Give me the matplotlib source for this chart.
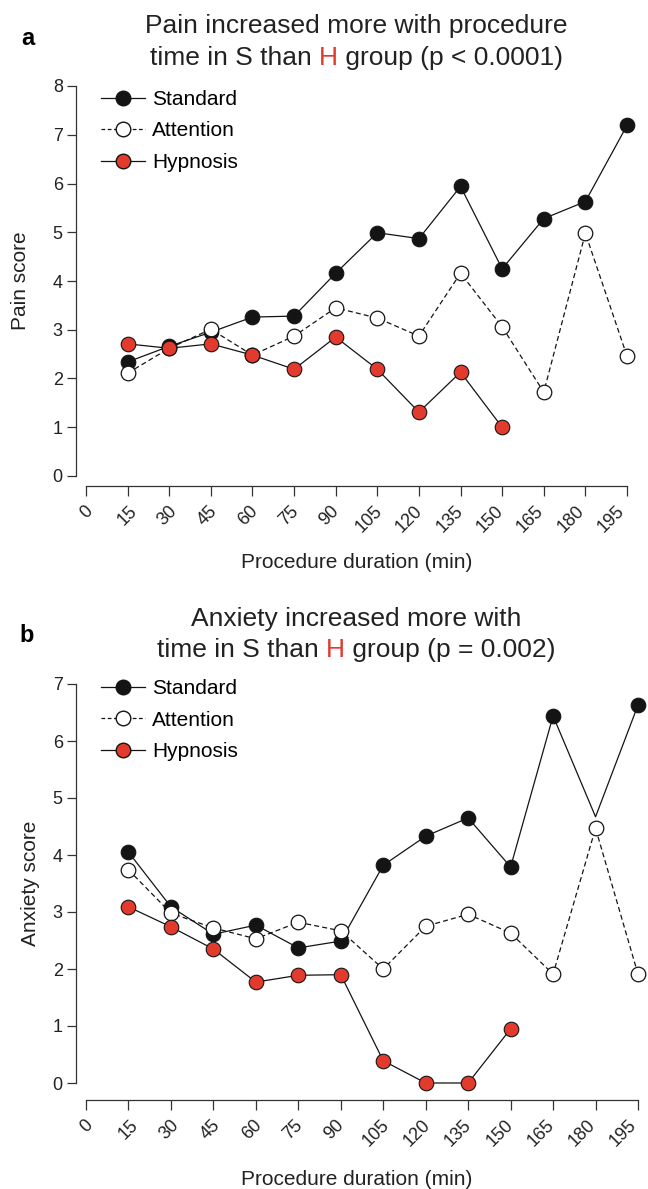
import matplotlib
matplotlib.use('Agg')
import matplotlib.pyplot as plt
from matplotlib.lines import Line2D
from matplotlib.transforms import ScaledTranslation

plt.rcParams['font.family'] = ['Liberation Sans', 'DejaVu Sans']

# ---------------- data ----------------
minutes = [15, 30, 45, 60, 75, 90, 105, 120, 135, 150, 165, 180, 195]
hyp_minutes = [15, 30, 45, 60, 75, 90, 105, 120, 135, 150]
tick_minutes = [0, 15, 30, 45, 60, 75, 90, 105, 120, 135, 150, 165, 180, 195]
tick_labels = [str(t) for t in tick_minutes]

pain_standard = [2.34, 2.66, 2.95, 3.26, 3.28, 4.16, 4.99, 4.87, 5.94, 4.25, 5.28, 5.63, 7.19]
pain_attention = [2.11, 2.62, 3.01, 2.48, 2.87, 3.45, 3.24, 2.87, 4.16, 3.06, 1.72, 4.98, 2.46]
pain_hypnosis = [2.71, 2.62, 2.71, 2.48, 2.19, 2.85, 2.19, 1.31, 2.13, 1.00]

anx_standard = [4.05, 3.09, 2.61, 2.77, 2.37, 2.49, 3.82, 4.33, 4.65, 3.79, 6.44, 4.67, 6.63]
anx_attention = [3.74, 2.98, 2.72, 2.53, 2.82, 2.67, 2.00, 2.75, 2.96, 2.63, 1.91, 4.47, 1.91]
anx_hypnosis = [3.09, 2.74, 2.35, 1.77, 1.89, 1.90, 0.39, 0.0, 0.0, 0.95]

series_names = ['Standard', 'Attention', 'Hypnosis']

# ---------------- style ----------------
W, H = 648, 1189
RED = '#e23b2e'
BLACK = '#141414'
AX_COLOR = '#333333'
TXT = '#222222'
MS = 10.5
LW = 0.9

fig = plt.figure(figsize=(W / 100, H / 100), dpi=100)


def px_axes(x0, x1, ytop, ybot):
    return fig.add_axes([x0 / W, 1 - ybot / H, (x1 - x0) / W, (ybot - ytop) / H])


def style_axes(ax, ymax, bottom_out_px, label_shift_px):
    ax.set_xlim(0, 195)
    ax.set_ylim(0, ymax)
    ax.patch.set_alpha(0)
    for s in ['top', 'right']:
        ax.spines[s].set_visible(False)
    for s in ['left', 'bottom']:
        ax.spines[s].set_color(AX_COLOR)
        ax.spines[s].set_linewidth(0.9)
    ax.spines['left'].set_position(('outward', 10 * 0.72))
    ax.spines['bottom'].set_position(('outward', bottom_out_px * 0.72))
    ax.spines['left'].set_bounds(0, ymax)
    ax.spines['bottom'].set_bounds(0, 195)
    ax.set_xticks(tick_minutes)
    ax.set_xticklabels(tick_labels)
    ax.set_yticks(range(0, ymax + 1))
    ax.tick_params(axis='x', length=7, width=0.9, color=AX_COLOR, labelsize=13,
                   pad=5, labelrotation=45, labelcolor=TXT)
    ax.tick_params(axis='y', length=6.5, width=0.9, color=AX_COLOR, labelsize=13,
                   pad=3, labelcolor=TXT)
    # labels drift slightly left of their ticks toward the right end, as in the original
    for k, tick in enumerate(ax.xaxis.get_major_ticks()):
        dx = (1.0 - label_shift_px * k) / 100.0
        tick.label1.set_transform(tick.label1.get_transform() +
                                  ScaledTranslation(dx, 0, fig.dpi_scale_trans))


def draw_series(ax, std, att, hyp, std_markevery=None):
    ax.plot(minutes, std, '-', color=BLACK, lw=LW, marker='o', ms=MS, mfc=BLACK,
            mec=BLACK, mew=0.8, clip_on=False, zorder=3, markevery=std_markevery)
    ax.plot(minutes, att, color=BLACK, lw=LW, ls=(0, (4, 2.5)), marker='o', ms=MS,
            mfc='white', mec=BLACK, mew=0.9, clip_on=False, zorder=4)
    ax.plot(hyp_minutes, hyp, '-', color=BLACK, lw=LW, marker='o', ms=MS, mfc=RED,
            mec=BLACK, mew=0.8, clip_on=False, zorder=5)


def legend(ax, x_px, ytop_px):
    handles = [
        Line2D([], [], color=BLACK, lw=LW, marker='o', ms=MS, mfc=BLACK, mec=BLACK),
        Line2D([], [], color=BLACK, lw=LW, ls=(0, (3, 2)), marker='o', ms=MS, mfc='white', mec=BLACK),
        Line2D([], [], color=BLACK, lw=LW, marker='o', ms=MS, mfc=RED, mec=BLACK),
    ]
    ax.legend(handles, series_names, loc='upper left', bbox_to_anchor=(x_px / W, 1 - ytop_px / H),
              bbox_transform=fig.transFigure, frameon=False, fontsize=15, handlelength=2.1,
              handletextpad=0.35, labelspacing=0.6, borderpad=0, borderaxespad=0, numpoints=1)


renderer = fig.canvas.get_renderer()


def text_width(s, size):
    t = fig.text(0, 0, s, fontsize=size)
    w = t.get_window_extent(renderer).width
    t.remove()
    return w


def title(line1, parts2, y1, y2, cx=356.5, size=19):
    fig.text(cx / W, 1 - y1 / H, line1, ha='center', va='baseline', fontsize=size, color=TXT)
    full = ''.join(p for p, _ in parts2)
    wf = text_width(full, size)
    x0 = cx - wf / 2
    bar = text_width('|', size)
    for k, (p, c) in enumerate(parts2):
        prefix = ''.join(q for q, _ in parts2[:k])
        off = (text_width(prefix + '|', size) - bar) if prefix else 0
        fig.text((x0 + off) / W, 1 - y2 / H, p, ha='left', va='baseline', fontsize=size, color=c)


# ---------------- panel a ----------------
axa = px_axes(86, 627, 86, 476)
style_axes(axa, 8, 10, 1.3)
draw_series(axa, pain_standard, pain_attention, pain_hypnosis)
legend(axa, 101, 90)
title('Pain increased more with procedure',
      [('time in S than ', TXT), ('H', RED), (' group (p < 0.0001)', TXT)], 33, 65)
fig.text(21 / W, 1 - 45 / H, 'a', fontsize=17, fontweight='bold', ha='left', va='baseline')
fig.text(21 / W, 1 - 281 / H, 'Pain score', rotation=90, ha='center', va='center', fontsize=15,
         color=TXT)
fig.text(356.5 / W, 1 - 568 / H, 'Procedure duration (min)', ha='center', va='baseline',
         fontsize=15, color=TXT)

# ---------------- panel b ----------------
axb = px_axes(86, 638, 684, 1083)
style_axes(axb, 7, 17, 1.2)
draw_series(axb, anx_standard, anx_attention, anx_hypnosis,
            std_markevery=[0, 1, 2, 3, 4, 5, 6, 7, 8, 9, 10, 12])
legend(axb, 101, 679)
title('Anxiety increased more with',
      [('time in S than ', TXT), ('H', RED), (' group (p = 0.002)', TXT)], 626, 657)
fig.text(19 / W, 1 - 642 / H, 'b', fontsize=17, fontweight='bold', ha='left', va='baseline')
fig.text(30 / W, 1 - 883 / H, 'Anxiety score', rotation=90, ha='center', va='center', fontsize=15,
         color=TXT)
fig.text(356.5 / W, 1 - 1185 / H, 'Procedure duration (min)', ha='center', va='baseline',
         fontsize=15, color=TXT)

fig.savefig('out.png', dpi=100)
